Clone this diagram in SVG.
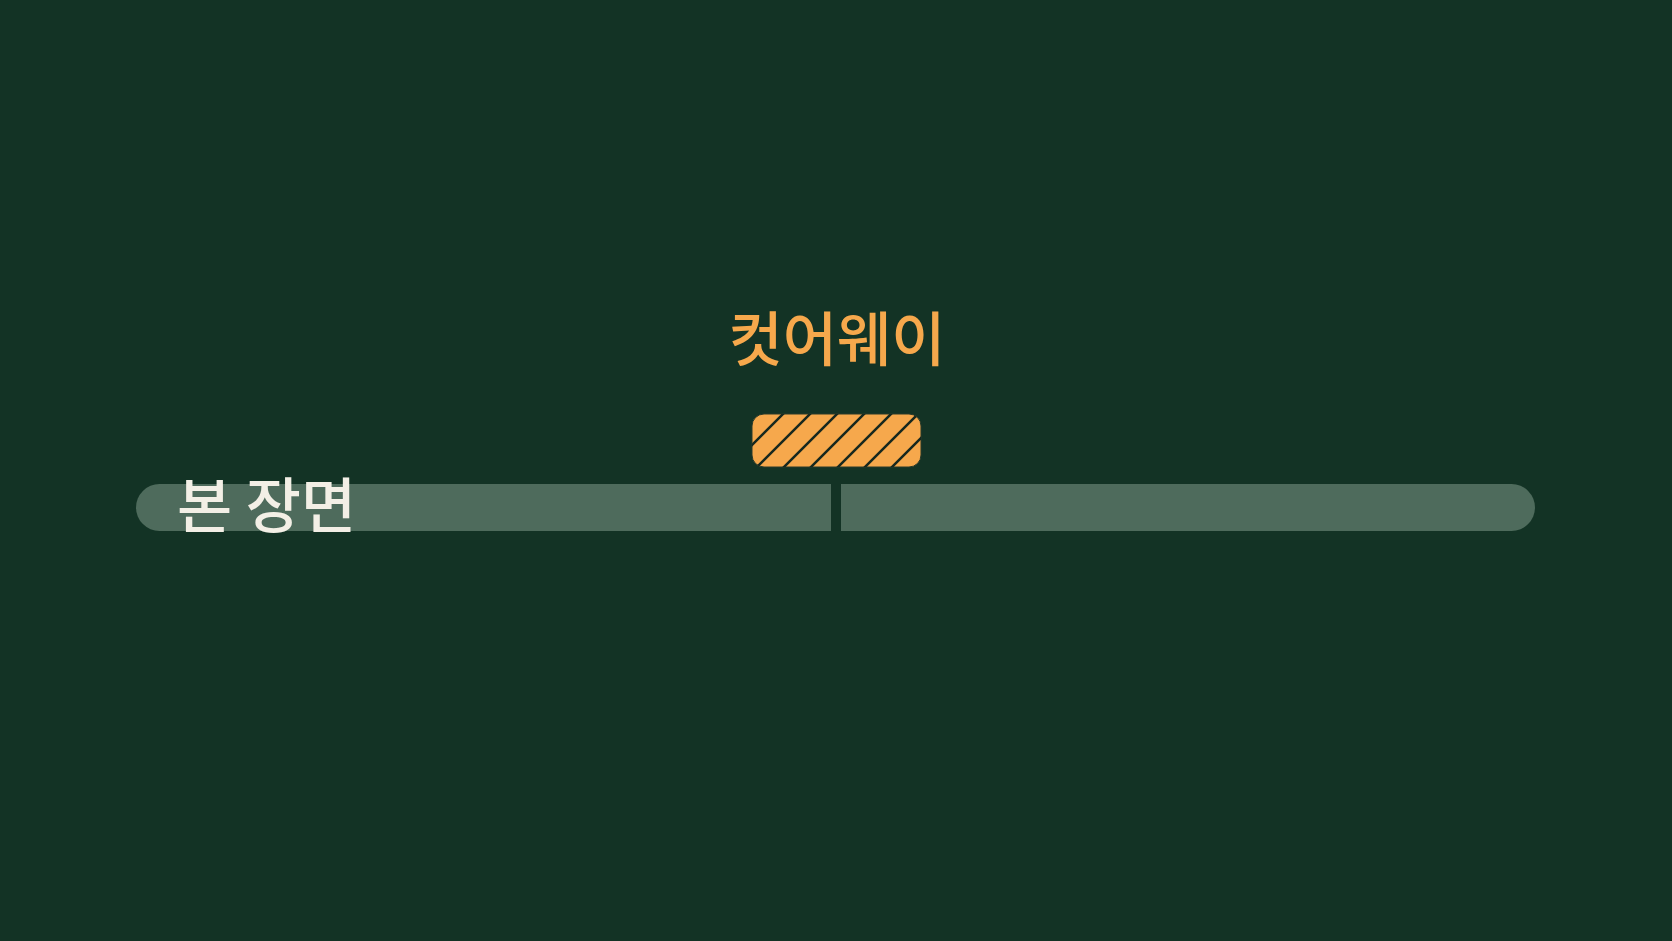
<svg xmlns="http://www.w3.org/2000/svg" width="1672" height="941" viewBox="0 0 1672 941">
<style>
.bg{fill:#133325}
.bar{fill:#4e6b5c}
.title{font-family:"Noto Sans CJK KR","Noto Sans",sans-serif;font-size:59px;font-weight:500;fill:#f6a84c}
.label{font-family:"Noto Sans CJK KR","Noto Sans",sans-serif;font-size:60px;font-weight:500;fill:#f3efe6}
.hatch{stroke:#16281e;stroke-width:2.5}
</style>
<defs>
<clipPath id="cutClip"><rect x="752" y="414" width="169" height="53" rx="12"/></clipPath>
</defs>
<rect class="bg" x="0" y="0" width="1672" height="941"/>
<g id="timeline">
<rect class="bar" x="136" y="484" width="1399" height="47" rx="23.5"/>
<rect class="bg" x="831" y="482" width="10" height="51"/>
</g>
<g id="main-label">
<text class="label" x="177" y="528">본 장면</text>
</g>
<g id="cutaway">
<rect x="752" y="414" width="169" height="53" rx="12" fill="#f6a84c" stroke="#2a3a2a" stroke-width="1"/>
<g clip-path="url(#cutClip)">
<line class="hatch" x1="1197" y1="0" x2="0" y2="1197"/>
<line class="hatch" x1="1224" y1="0" x2="0" y2="1224"/>
<line class="hatch" x1="1251" y1="0" x2="0" y2="1251"/>
<line class="hatch" x1="1278" y1="0" x2="0" y2="1278"/>
<line class="hatch" x1="1305" y1="0" x2="0" y2="1305"/>
<line class="hatch" x1="1332" y1="0" x2="0" y2="1332"/>
<line class="hatch" x1="1359" y1="0" x2="0" y2="1359"/>
<line class="hatch" x1="1386" y1="0" x2="0" y2="1386"/>
</g>
</g>
<g id="cutaway-label">
<text class="title" x="837" y="361" text-anchor="middle">컷어웨이</text>
</g>
</svg>
